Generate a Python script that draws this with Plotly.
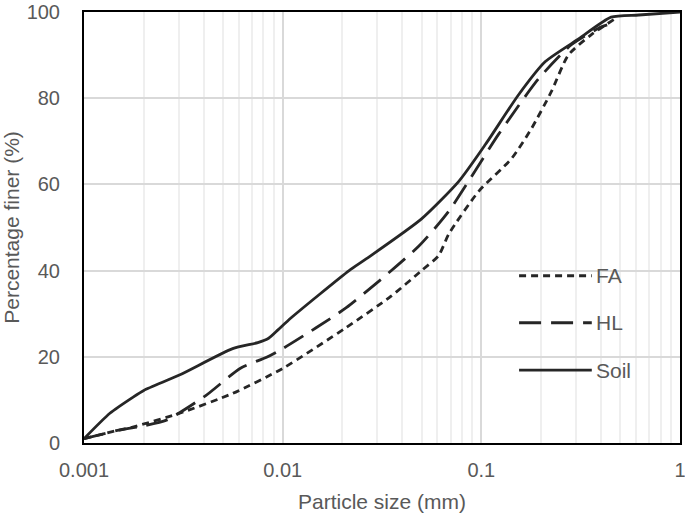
import plotly.graph_objects as go

# ─── Particle size distribution data ─────────────────────────────────
fa_size = [0.001, 0.0015, 0.00176, 0.00303, 0.0056, 0.01, 0.0209, 0.035, 0.05,
           0.061, 0.0686, 0.097, 0.142, 0.179, 0.225, 0.274, 0.357, 0.47]
fa_finer = [1, 3, 3.7, 6.9, 11.5, 17.3, 26.8, 34, 40,
            43.5, 48.5, 58.4, 66, 73, 81.5, 90, 94.7, 98.4]

hl_size = [0.001, 0.0015, 0.002, 0.0026, 0.0041, 0.0061, 0.0083, 0.01, 0.0209,
           0.0485, 0.0686, 0.122, 0.194, 0.284, 0.40, 0.43]
hl_finer = [1, 3, 4, 5.3, 11, 17.3, 19.9, 21.9, 31.4,
            45.7, 53.8, 71.6, 84.5, 92.4, 96.5, 97]

soil_size = [0.001, 0.00135, 0.00176, 0.002, 0.003, 0.0056, 0.0075, 0.0085, 0.0095,
             0.011, 0.0216, 0.0263, 0.05, 0.077, 0.105, 0.154, 0.21, 0.31, 0.45,
             0.62, 1.0]
soil_finer = [1, 6.9, 10.6, 12.2, 15.7, 21.9, 23.3, 24.3, 26.3,
              29, 40, 42.7, 52, 60.7, 69.3, 80.8, 88.5, 93.8, 98.8,
              99.3, 100]

x_ticks = [0.001, 0.01, 0.1, 1]
x_tick_labels = ["0.001", "0.01", "0.1", "1"]
x_minor = [m * d for d in (0.001, 0.01, 0.1) for m in range(2, 10)]
y_ticks = [0, 20, 40, 60, 80, 100]

LINE_COLOR = "#262626"
TEXT_COLOR = "#595959"
FONT = "Liberation Sans, Arial, sans-serif"

series = [
    ("FA", fa_size, fa_finer, "7px,5px"),
    ("HL", hl_size, hl_finer, "22px,10px"),
    ("Soil", soil_size, soil_finer, "solid"),
]

fig = go.Figure()
for name, xs, ys, dash in series:
    fig.add_trace(go.Scatter(
        x=xs, y=ys, mode="lines", name=name, showlegend=False,
        line=dict(color=LINE_COLOR, width=2.8, dash=dash, shape="spline", smoothing=0.6),
    ))

# hand-drawn legend (long sample lines like the original)
legend_y = [0.388, 0.279, 0.169]
for (name, _, _, dash), ly in zip(series, legend_y):
    fig.add_shape(type="line", xref="paper", yref="paper",
                  x0=0.73, x1=0.852, y0=ly, y1=ly,
                  line=dict(color=LINE_COLOR, width=2.8, dash=dash))
    fig.add_annotation(xref="paper", yref="paper", x=0.856, y=ly,
                       text=name, showarrow=False, xanchor="left", yanchor="middle",
                       font=dict(family=FONT, size=21, color=TEXT_COLOR))

fig.update_layout(
    width=685, height=516,
    paper_bgcolor="white", plot_bgcolor="white",
    font=dict(family=FONT, color=TEXT_COLOR, size=21),
    margin=dict(l=84, r=5, t=12, b=73),
    showlegend=False,
    xaxis=dict(
        type="log", range=[-3, 0], automargin=False, ticklabeloverflow="allow",
        tickvals=x_ticks, ticktext=x_tick_labels, ticklabelstandoff=8,
        tickfont=dict(size=20),
        showgrid=True, gridcolor="#d9d9d9", gridwidth=1.5,
        minor=dict(tickvals=x_minor, showgrid=True, gridcolor="#efefef", gridwidth=1.5, ticks=""),
        showline=True, linecolor="black", linewidth=2, mirror=True,
        ticks="", zeroline=False,
        title=dict(text="Particle size (mm)", font=dict(size=21, color=TEXT_COLOR), standoff=14),
    ),
    yaxis=dict(
        range=[0, 100], tickvals=y_ticks, automargin=False, ticklabeloverflow="allow",
        ticklabelstandoff=18, tickfont=dict(size=20),
        showgrid=True, gridcolor="#d9d9d9", gridwidth=1.5,
        showline=True, linecolor="black", linewidth=2, mirror=True,
        ticks="", zeroline=False,
        title=dict(text="Percentage finer (%)", font=dict(size=21, color=TEXT_COLOR), standoff=12),
    ),
)

# drop the default 8px body margin so the figure sits flush in the window
fig.write_html("out.html", config={"displayModeBar": False},
               post_script="document.body.style.margin='0';")
